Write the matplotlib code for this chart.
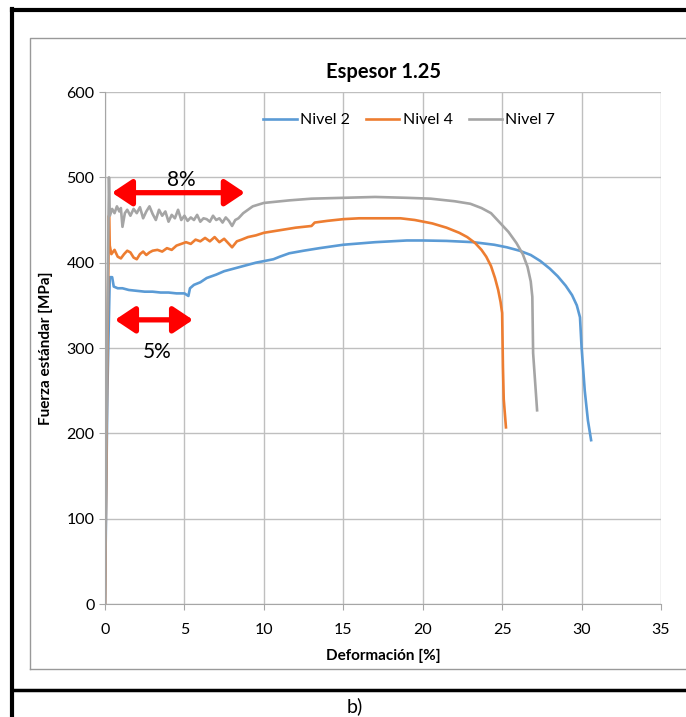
import matplotlib.pyplot as plt
from matplotlib.lines import Line2D

plt.rcParams['font.family'] = ['Lato', 'DejaVu Sans']

# Nivel 2
n2_x = [0, 0.15, 0.3, 0.45, 0.55, 0.8, 1.1, 1.5, 2.0, 2.5, 3.0, 3.5, 4.0, 4.5, 5.0, 5.25,
        5.35, 5.6, 6.0, 6.4, 7.0, 7.5, 8.5, 9.5, 10.6, 11.0, 11.6, 12.5, 13.5, 15, 17, 19,
        20, 21.5, 23.2, 24.5, 25.3, 26.1, 26.8, 27.4, 28.0, 28.5, 29.0, 29.4, 29.7, 29.9,
        30.0, 30.2, 30.4, 30.6]
n2_y = [0, 250, 383, 383, 372, 370, 370, 368, 367, 366, 366, 365, 365, 364, 364, 361,
        370, 374, 377, 382, 386, 390, 395, 400, 404, 407, 411, 414, 417, 421, 424, 426,
        426, 425.5, 424, 421, 418, 414, 409, 402, 393, 384, 373, 362, 350, 336,
        301, 250, 215, 192]

# Nivel 4
n4_x = [0, 0.15, 0.25, 0.3, 0.4, 0.6, 0.8, 1.0, 1.2, 1.4, 1.6, 1.8, 2.0, 2.2, 2.4, 2.6,
        2.8, 3.0, 3.3, 3.6, 3.9, 4.2, 4.5, 4.8, 5.1, 5.4, 5.7, 6.0, 6.3, 6.6, 6.9, 7.2,
        7.5, 7.8, 8.0, 8.3, 8.6, 9.0, 9.5, 10, 11, 12, 13, 13.2, 14, 15, 16, 17.5, 18.6,
        19.5, 20.6, 21.5, 22.3, 22.8, 23.3, 23.7, 24.0, 24.3, 24.55, 24.75, 24.9, 25.0,
        25.05, 25.1, 25.24]
n4_y = [0, 300, 455, 420, 410, 415, 407, 405, 410, 414, 412, 406, 404, 410, 413, 409,
        412, 414, 415, 413, 417, 415, 420, 422, 424, 422, 427, 425, 429, 425, 430, 424,
        428, 422, 418, 425, 427, 430, 432, 435, 438, 441, 443, 447, 449, 451, 452, 452, 452,
        450, 446, 441, 435, 430, 423, 415, 407, 396, 382, 368, 354, 341,
        278, 240, 207]

# Nivel 7
n7_x = [0, 0.15, 0.25, 0.3, 0.45, 0.6, 0.75, 0.9, 1.0, 1.1, 1.25, 1.4, 1.6, 1.8, 2.0, 2.2,
        2.4, 2.6, 2.8, 3.0, 3.2, 3.4, 3.6, 3.8, 4.0, 4.2, 4.4, 4.6, 4.8, 5.0, 5.2, 5.4,
        5.6, 5.8, 6.0, 6.2, 6.4, 6.6, 6.8, 7.0, 7.2, 7.4, 7.6, 7.8, 8.0, 8.2, 8.4, 8.7,
        9.0, 9.3, 10, 11.6, 13, 15, 17, 19, 20.5, 22, 23.0, 23.7, 24.3, 24.9, 25.4, 25.9,
        26.3, 26.6, 26.8, 26.9, 26.95, 27.2]
n7_y = [0, 330, 500, 455, 463, 458, 466, 460, 464, 442, 458, 462, 455, 463, 458, 465,
        452, 460, 466, 457, 450, 462, 455, 460, 448, 456, 452, 462, 450, 455, 449, 453,
        450, 456, 448, 452, 451, 448, 455, 450, 452, 447, 453, 449, 443, 450, 452, 458,
        462, 466, 470, 473, 475, 476, 477, 476, 475, 472, 469, 464, 458, 446, 436, 423,
        410, 395, 378, 360, 294, 227]

series = [('Nivel 2', n2_x, n2_y, '#5B9BD5'),
          ('Nivel 4', n4_x, n4_y, '#ED7D31'),
          ('Nivel 7', n7_x, n7_y, '#A5A5A5')]

fig = plt.figure(figsize=(6.86, 7.17), dpi=100)
ax = fig.add_axes([105 / 686, 113 / 717, 556 / 686, 512 / 717])

for name, xs, ys, color in series:
    ax.plot(xs, ys, color=color, lw=1.9, label=name)

ax.set_xlim(0, 35)
ax.set_ylim(0, 600)
ax.set_xticks(range(0, 36, 5))
ax.set_yticks(range(0, 601, 100))
ax.grid(True, color='#BFBFBF', lw=1)
ax.set_axisbelow(True)
for side in ['top', 'right']:
    ax.spines[side].set_visible(False)
for side in ['left', 'bottom']:
    ax.spines[side].set_color('#A6A6A6')
ax.tick_params(axis='both', colors='#A6A6A6', labelcolor='black', labelsize=11.5,
               length=4, direction='out')
ax.tick_params(axis='x', pad=10)

ax.set_title('Espesor 1.25', fontsize=14.5, fontweight='bold', pad=10)
ax.set_xlabel('Deformación [%]', fontsize=11, fontweight='bold', labelpad=8)
ax.set_ylabel('Fuerza estándar [MPa]', fontsize=11, fontweight='bold', labelpad=10)

ax.legend(loc='center', bbox_to_anchor=(0.547, 0.945), ncol=3, frameon=False,
          fontsize=11.5, handlelength=2.1, handletextpad=0.2, columnspacing=1.0)

# red arrows
arrow = dict(arrowstyle='<|-|>,head_length=0.6,head_width=0.4', color='#FF0000',
             lw=3.8, mutation_scale=20, shrinkA=0, shrinkB=0)
ax.annotate('', xy=(8.8, 482), xytext=(0.44, 482), arrowprops=arrow)
ax.annotate('', xy=(5.54, 333), xytext=(0.63, 333), arrowprops=arrow)
ax.text(4.8, 497, '8%', fontsize=15, ha='center', va='center')
ax.text(3.3, 295, '5%', fontsize=15, ha='center', va='center')

# frames
fig.add_artist(Line2D([12 / 686, 12 / 686], [0, 1 - 9 / 717], color='black', lw=3))
fig.add_artist(Line2D([12 / 686, 1], [1 - 10 / 717, 1 - 10 / 717], color='black', lw=3))
fig.add_artist(Line2D([12 / 686, 1], [1 - 690 / 717, 1 - 690 / 717], color='black', lw=2.5))
fig.add_artist(Line2D([29.5 / 686, 29.5 / 686, 1], [1 - 669 / 717, 1 - 38 / 717, 1 - 38 / 717],
                      color='#999999', lw=1))
fig.add_artist(Line2D([29.5 / 686, 1], [1 - 669 / 717, 1 - 669 / 717], color='#999999', lw=1))
fig.text(355 / 686, 1 - 706 / 717, 'b)', fontsize=14, ha='center', va='center')

fig.savefig('out.png', dpi=100)
